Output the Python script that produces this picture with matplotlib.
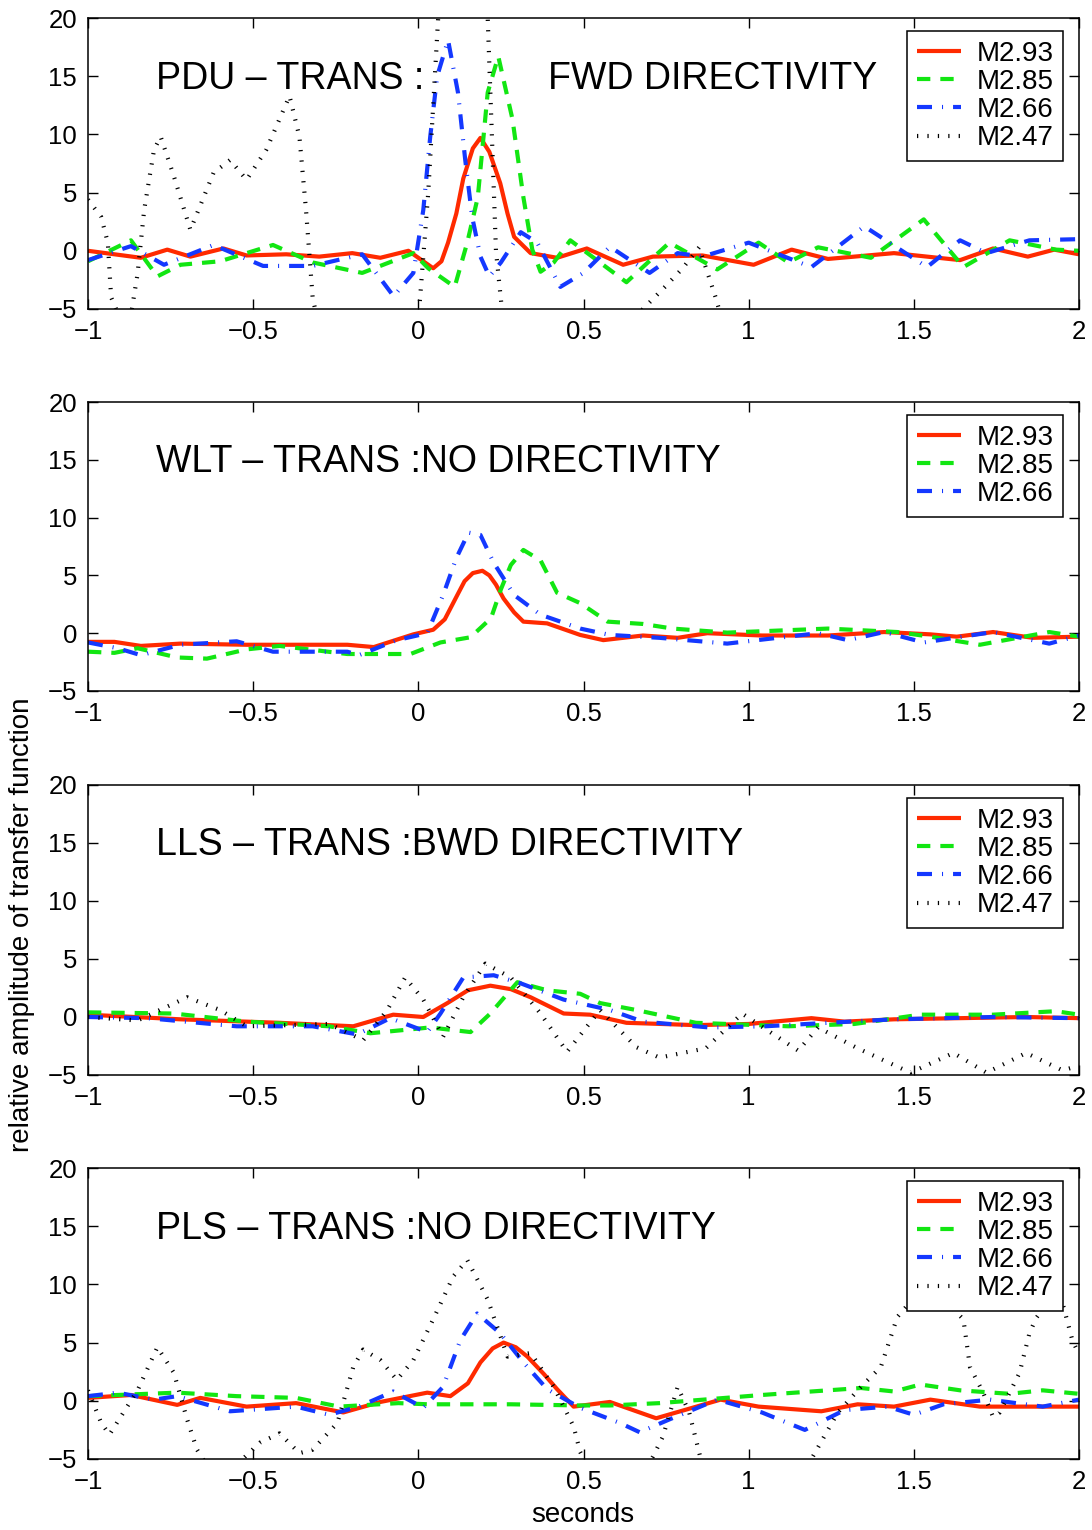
import numpy as np
import matplotlib
matplotlib.use("Agg")
import matplotlib.pyplot as plt

plt.rcParams['font.family'] = ['Liberation Sans', 'DejaVu Sans']

# ---- data (seconds, relative amplitude) ----
labels = ['M2.93', 'M2.85', 'M2.66', 'M2.47']

# PDU - TRANS : FWD DIRECTIVITY
pdu_red_t = [-1.0, -0.84, -0.76, -0.69, -0.59, -0.52, -0.40, -0.30, -0.20, -0.115, -0.03, 0.045, 0.07, 0.09, 0.115, 0.136,
             0.165, 0.188, 0.215, 0.248, 0.27, 0.29, 0.34, 0.42, 0.51, 0.62, 0.71, 0.86, 1.015, 1.13, 1.24, 1.44,
             1.64, 1.74, 1.845, 1.925, 2.0]
pdu_red = [0.0, -0.6, 0.1, -0.5, 0.2, -0.4, -0.3, -0.5, -0.2, -0.6, 0.0, -1.5, -0.9, 0.7, 3.2, 6.2,
           8.8, 9.7, 8.5, 5.8, 3.2, 1.2, -0.2, -0.6, 0.2, -1.2, -0.5, -0.4, -1.2, 0.1, -0.7, -0.2,
           -0.8, 0.2, -0.5, 0.1, -0.3]
pdu_green_t = [-1.0, -0.87, -0.79, -0.72, -0.60, -0.44, -0.32, -0.17, -0.015, 0.03, 0.11, 0.148, 0.18, 0.21, 0.242,
               0.285, 0.318, 0.345, 0.37, 0.41, 0.46, 0.63, 0.76, 0.905, 1.03, 1.12, 1.21, 1.37, 1.53, 1.65,
               1.79, 1.93, 2.0]
pdu_green = [-0.9, 0.9, -2.2, -1.2, -0.9, 0.5, -1.0, -1.9, -0.2, -1.5, -3.1, 0.7, 4.6, 13.6, 16.7,
             11.3, 4.6, 0.1, -1.8, -1.0, 0.9, -2.7, 0.7, -1.6, 0.7, -1.0, 0.3, -0.6, 2.7, -1.4,
             0.9, 0.1, 0.0]
pdu_blue_t = [-1.0, -0.87, -0.77, -0.62, -0.47, -0.32, -0.17, -0.075, -0.015, 0.015, 0.036, 0.057, 0.09, 0.12, 0.142,
              0.163, 0.188, 0.215, 0.25, 0.31, 0.36, 0.43, 0.50, 0.58, 0.70, 0.785, 0.86, 1.0, 1.19, 1.35,
              1.54, 1.64, 1.72, 1.85, 2.0]
pdu_blue = [-0.8, 0.4, -1.2, 0.5, -1.3, -1.3, -0.3, -3.9, -1.9, 3.5, 9.8, 15.0, 18.1, 13.6, 7.8,
            2.9, -0.5, -2.2, -1.0, 1.6, 0.7, -3.1, -1.9, 0.35, -1.9, -0.2, -0.5, 0.7, -1.4, 2.1,
            -1.4, 0.9, -0.2, 0.9, 1.0]
pdu_black_t = [-1.0, -0.96, -0.94, -0.93, -0.90, -0.87, -0.85, -0.83, -0.80, -0.78, -0.74, -0.69, -0.62, -0.57, -0.52,
               -0.46, -0.39, -0.36, -0.34, -0.32, -0.29, -0.05, 0.0, 0.03, 0.06, 0.08, 0.19, 0.21, 0.235, 0.26,
               0.60, 0.68, 0.75, 0.80, 0.85, 0.90, 0.93, 2.0]
pdu_black = [4.4, 2.9, 0.7, -4.0, -6.0, -5.5, -2.0, 3.5, 8.7, 9.8, 6.4, 1.8, 6.7, 7.8, 6.1,
             8.7, 13.3, 9.8, 3.5, -4.0, -8.0, -8.0, -6.0, 5.0, 20.0, 25.0, 25.0, 20.0, 0.0, -7.0,
             -8.0, -5.0, -3.0, -1.5, 0.3, -4.0, -7.0, -8.0]

# WLT - TRANS : NO DIRECTIVITY
wlt_red_t = [-1.0, -0.92, -0.84, -0.72, -0.52, -0.215, -0.135, -0.015, 0.045, 0.08, 0.118, 0.14, 0.165, 0.194, 0.215,
             0.235, 0.258, 0.29, 0.318, 0.39, 0.49, 0.56, 0.68, 0.785, 0.875, 1.04, 1.24, 1.41, 1.55, 1.63, 1.74,
             1.86, 2.0]
wlt_red = [-0.75, -0.75, -1.1, -0.9, -1.0, -1.0, -1.2, -0.1, 0.3, 1.2, 3.3, 4.5, 5.2, 5.4, 5.0,
           4.2, 3.0, 1.8, 1.0, 0.85, -0.15, -0.6, -0.2, -0.4, 0.0, -0.2, -0.2, 0.1, -0.1, -0.3, 0.1,
           -0.4, -0.3]
wlt_green_t = [-1.0, -0.92, -0.85, -0.73, -0.64, -0.52, -0.42, -0.215, -0.024, 0.067, 0.158, 0.22, 0.25, 0.28, 0.318,
               0.37, 0.42, 0.49, 0.573, 0.68, 0.77, 0.935, 1.24, 1.45, 1.55, 1.70, 1.91, 2.0]
wlt_green = [-1.6, -1.7, -1.3, -2.1, -2.2, -1.4, -1.1, -1.8, -1.8, -0.8, -0.35, 1.3, 3.8, 5.9, 7.2,
             6.3, 3.5, 2.6, 1.0, 0.8, 0.4, 0.05, 0.4, 0.1, -0.3, -1.0, 0.1, -0.3]
wlt_blue_t = [-1.0, -0.91, -0.84, -0.72, -0.55, -0.44, -0.215, -0.18, -0.065, 0.027, 0.075, 0.115, 0.152, 0.188, 0.228,
              0.29, 0.37, 0.49, 0.58, 0.73, 0.935, 1.21, 1.30, 1.41, 1.53, 1.74, 1.91, 2.0]
wlt_blue = [-0.8, -1.3, -1.9, -1.0, -0.7, -1.6, -1.6, -1.9, -0.6, 0.0, 3.3, 6.5, 8.7, 8.5, 6.1,
            3.3, 1.6, 0.4, -0.15, -0.4, -0.9, 0.0, -0.6, 0.1, -0.8, 0.1, -0.9, -0.2]

# LLS - TRANS : BWD DIRECTIVITY
lls_red_t = [-1.0, -0.72, -0.42, -0.197, -0.076, 0.015, 0.088, 0.15, 0.218, 0.28, 0.34, 0.44, 0.52, 0.63, 0.84,
             1.0, 1.19, 1.29, 1.44, 1.64, 1.84, 2.0]
lls_red = [0.2, -0.2, -0.5, -0.8, 0.2, 0.0, 1.2, 2.3, 2.7, 2.4, 1.7, 0.3, 0.2, -0.5, -0.7,
           -0.6, -0.1, -0.4, -0.2, -0.1, 0.0, -0.1]
lls_green_t = [-1.0, -0.74, -0.52, -0.27, -0.145, 0.036, 0.158, 0.218, 0.30, 0.39, 0.49, 0.55, 0.66, 0.84, 1.12,
               1.32, 1.52, 1.74, 1.93, 2.0]
lls_green = [0.4, 0.3, -0.4, -0.8, -1.4, -0.9, -1.3, 0.3, 3.0, 2.3, 2.0, 1.2, 0.6, -0.5, -0.8,
             -0.6, 0.2, 0.2, 0.5, 0.2]
lls_blue_t = [-1.0, -0.82, -0.55, -0.32, -0.185, -0.085, 0.027, 0.067, 0.136, 0.228, 0.31, 0.44, 0.58, 0.68, 0.88,
              1.05, 1.24, 1.44, 1.74, 2.0]
lls_blue = [0.0, -0.1, -0.8, -0.8, -1.5, -0.1, -1.3, 0.3, 3.4, 3.6, 2.9, 1.5, 0.6, -0.4, -0.9,
            -0.8, -0.5, -0.2, 0.0, -0.1]
lls_black_t = [-1.0, -0.85, -0.70, -0.60, -0.52, -0.27, -0.167, -0.094, -0.04, 0.015, 0.075, 0.136, 0.203, 0.28, 0.37,
               0.45, 0.55, 0.66, 0.73, 0.87, 0.98, 1.15, 1.21, 1.33, 1.49, 1.62, 1.72, 1.84, 1.95, 2.0]
lls_black = [0.0, -0.3, 1.7, 0.6, -0.8, -0.6, -2.0, 0.6, 3.4, 1.5, -1.7, 1.7, 4.6, 3.4, 0.3,
             -3.0, 0.6, -2.6, -3.5, -2.7, 0.3, -2.9, -0.9, -2.7, -4.8, -3.1, -4.8, -3.1, -4.6, -4.2]

# PLS - TRANS : NO DIRECTIVITY
pls_red_t = [-1.0, -0.87, -0.73, -0.66, -0.52, -0.37, -0.227, -0.115, 0.027, 0.097, 0.15, 0.188, 0.225, 0.258, 0.295,
             0.33, 0.38, 0.42, 0.47, 0.58, 0.72, 0.915, 1.03, 1.22, 1.33, 1.44, 1.55, 1.70, 2.0]
pls_red = [0.25, 0.5, -0.35, 0.25, -0.5, -0.2, -1.0, -0.1, 0.7, 0.4, 1.5, 3.3, 4.5, 5.0, 4.6,
           3.8, 2.3, 1.0, -0.5, -0.1, -1.5, 0.1, -0.5, -0.9, -0.3, -0.5, 0.1, -0.5, -0.5]
pls_green_t = [-1.0, -0.73, -0.55, -0.37, -0.24, -0.06, 0.03, 0.28, 0.49, 0.58, 0.73, 1.04, 1.34, 1.44, 1.52,
               1.64, 1.79, 1.89, 2.0]
pls_green = [0.4, 0.7, 0.4, 0.25, -0.5, -0.2, -0.3, -0.3, -0.4, -0.4, -0.2, 0.5, 1.1, 0.8, 1.4,
             0.9, 0.6, 0.9, 0.6]
pls_blue_t = [-1.0, -0.91, -0.80, -0.73, -0.57, -0.37, -0.27, -0.18, -0.076, 0.015, 0.075, 0.127, 0.178, 0.248, 0.318,
              0.39, 0.49, 0.61, 0.67, 0.76, 0.905, 1.04, 1.17, 1.29, 1.42, 1.50, 1.59, 1.73, 1.89, 2.0]
pls_blue = [0.4, 0.7, 0.1, 0.4, -0.9, -0.5, -1.2, -0.5, 0.8, -0.6, 1.2, 5.2, 7.5, 5.8, 3.3,
            1.0, -0.6, -1.9, -2.7, -1.6, 0.1, -1.0, -2.5, -0.8, -0.5, -1.2, -0.3, 0.1, -0.5, 0.1]
pls_black_t = [-1.0, -0.96, -0.935, -0.85, -0.79, -0.74, -0.70, -0.67, -0.63, -0.55, -0.48, -0.42, -0.36, -0.32, -0.245,
               -0.197, -0.167, -0.115, -0.065, -0.015, 0.045, 0.106, 0.148, 0.21, 0.27, 0.34, 0.41, 0.47, 0.49, 0.53,
               0.68, 0.71, 0.74, 0.785, 0.82, 0.855, 0.9, 1.15, 1.2, 1.27, 1.34, 1.40, 1.45, 1.52, 1.58,
               1.65, 1.67, 1.71, 1.74, 1.76, 1.82, 1.85, 1.87, 1.92, 1.95, 1.98, 2.0]
pls_black = [0.9, -1.9, -2.9, 0.9, 4.6, 2.4, -1.6, -4.2, -6.0, -5.5, -3.6, -2.8, -4.5, -4.2, -1.9,
             2.9, 4.4, 3.5, 1.8, 3.5, 7.0, 10.7, 12.1, 8.7, 3.8, 4.1, 1.2, -2.2, -4.4, -6.5,
             -6.0, -4.8, -3.1, 1.2, -1.0, -5.0, -7.0, -7.0, -4.5, -1.0, 1.2, 2.9, 7.2, 9.5, 9.0,
             7.0, 2.9, 0.7, -1.4, -1.0, 2.4, 5.8, 7.1, 9.0, 8.4, 5.2, 4.0]

xticks = [-1, -0.5, 0, 0.5, 1, 1.5, 2]
xticklabels = ['−1', '−0.5', '0', '0.5', '1', '1.5', '2']
yticks = [-5, 0, 5, 10, 15, 20]
yticklabels = ['−5', '0', '5', '10', '15', '20']

# ---- styles ----
RED = '#ff2a00'
GREEN = '#12e612'
BLUE = '#1438ff'
STYLES = [
    dict(color=RED, lw=3.0, ls='-'),
    dict(color=GREEN, lw=3.0, ls=(0, (3.2, 2.4))),
    dict(color=BLUE, lw=3.0, ls=(0, (3.6, 2.4, 0.25, 2.4))),
    dict(color='black', lw=3.0, ls=(0, (0.3, 2.2))),
]

fig = plt.figure(figsize=(10.92, 15.3), dpi=100)

W, H = 1092.0, 1530.0
left, right = 88, 1079
panel_px = [(18, 309), (402, 691), (785, 1075), (1168, 1459)]

panels = [
    (["PDU – TRANS :", "FWD DIRECTIVITY"],
     [(pdu_red_t, pdu_red), (pdu_green_t, pdu_green), (pdu_blue_t, pdu_blue), (pdu_black_t, pdu_black)]),
    (["WLT – TRANS :NO DIRECTIVITY"],
     [(wlt_red_t, wlt_red), (wlt_green_t, wlt_green), (wlt_blue_t, wlt_blue)]),
    (["LLS – TRANS :BWD DIRECTIVITY"],
     [(lls_red_t, lls_red), (lls_green_t, lls_green), (lls_blue_t, lls_blue), (lls_black_t, lls_black)]),
    (["PLS – TRANS :NO DIRECTIVITY"],
     [(pls_red_t, pls_red), (pls_green_t, pls_green), (pls_blue_t, pls_blue), (pls_black_t, pls_black)]),
]

for (top, bot), (titles, series) in zip(panel_px, panels):
    ax = fig.add_axes([left / W, 1 - bot / H, (right - left) / W, (bot - top) / H])
    for i, (t, v) in enumerate(series):
        st = STYLES[i]
        ax.plot(t, v, color=st['color'], lw=st['lw'], linestyle=st['ls'],
                dash_capstyle='butt', solid_capstyle='butt', label=labels[i])
    ax.set_xlim(-1, 2)
    ax.set_ylim(-5, 20)
    ax.set_xticks(xticks)
    ax.set_xticklabels(xticklabels)
    ax.set_yticks(yticks)
    ax.set_yticklabels(yticklabels)
    ax.tick_params(direction='in', top=True, right=True, length=7, width=1,
                   labelsize=18.5, pad=8)
    for sp in ax.spines.values():
        sp.set_linewidth(1.1)
    ax.text(-0.795, 14.8, titles[0], fontsize=27, va='center', ha='left')
    if len(titles) > 1:
        ax.text(0.394, 14.8, titles[1], fontsize=27, va='center', ha='left')
    leg = ax.legend(loc='upper right', bbox_to_anchor=(1 - 16 / 991, 1 - 13 / (bot - top)),
                    borderaxespad=0, fontsize=20, fancybox=False, framealpha=1,
                    edgecolor='black', handlelength=1.6, handletextpad=0.55,
                    labelspacing=0.08, borderpad=0.35)
    leg.get_frame().set_linewidth(1.1)

fig.text(22 / W, 1 - 925 / H, 'relative amplitude of transfer function', rotation=90,
         fontsize=20, ha='center', va='center')
fig.text(583 / W, 1 - 1515 / H, 'seconds', fontsize=20, ha='center', va='center')

fig.savefig('out.png', dpi=100)
